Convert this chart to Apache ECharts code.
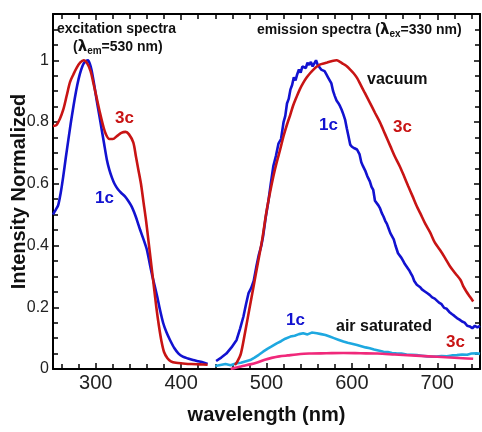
<!DOCTYPE html>
<html><head><meta charset="utf-8">
<script src="https://cdn.jsdelivr.net/npm/echarts@6/dist/echarts.min.js"></script>
<style>html,body{margin:0;padding:0;background:#fff}#c{width:482px;height:432px}</style>
</head><body><div id="c"></div>
<script>
// excitation 1c (wavelength nm, normalized intensity)
const exc1c = [[250,0.5],[253,0.515],[256,0.53],[259,0.57],[262,0.624],[265,0.685],[268,0.743],[271,0.8],[274,0.852],[277,0.9],[280,0.94],[283,0.97],[286,0.99],[289,0.998],[291,1.0],[293,0.99],[295,0.97],[298,0.925],[301,0.873],[304,0.825],[307,0.776],[310,0.727],[313,0.679],[316,0.645],[319,0.62],[322,0.6],[326,0.582],[330,0.57],[334,0.56],[338,0.545],[342,0.527],[345,0.508],[348,0.485],[352,0.451],[356,0.42],[360,0.386],[363,0.345],[366,0.305],[369,0.27],[372,0.235],[375,0.195],[379,0.149],[383,0.118],[387,0.094],[392,0.068],[397,0.05],[402,0.04],[408,0.034],[414,0.029],[420,0.025],[426,0.021],[431,0.016]];
// excitation 3c
const exc3c = [[250,0.787],[254,0.79],[258,0.81],[262,0.84],[266,0.885],[270,0.93],[274,0.955],[278,0.977],[282,0.993],[286,1.0],[290,0.99],[294,0.965],[297,0.93],[301,0.88],[305,0.83],[309,0.785],[312,0.76],[316,0.745],[320,0.745],[325,0.755],[330,0.765],[335,0.768],[339,0.76],[344,0.734],[347,0.69],[350,0.645],[353,0.6],[356,0.54],[359,0.48],[362,0.41],[365,0.34],[368,0.27],[371,0.2],[374,0.14],[377,0.09],[380,0.055],[384,0.035],[388,0.025],[394,0.02],[402,0.018],[412,0.016],[422,0.015],[431,0.014]];
// emission 1c, vacuum
const em1cVac = [[441,0.026],[447,0.037],[453,0.05],[459,0.07],[465,0.094],[469,0.13],[473,0.17],[476,0.21],[479,0.246],[482,0.262],[485,0.285],[488,0.33],[491,0.37],[494,0.4],[496,0.43],[499,0.49],[502,0.54],[505,0.6],[508,0.657],[511,0.69],[514,0.73],[517,0.745],[520,0.8],[522,0.82],[524,0.86],[526,0.875],[528,0.905],[530,0.92],[532,0.945],[534,0.935],[536,0.955],[538,0.97],[540,0.96],[542,0.98],[544,0.985],[546,0.975],[548,0.992],[550,0.985],[552,0.995],[554,0.98],[556,0.99],[558,1.0],[560,0.985],[562,0.98],[564,0.97],[566,0.975],[568,0.965],[570,0.955],[572,0.945],[574,0.935],[576,0.925],[578,0.9],[580,0.884],[582,0.87],[584,0.862],[586,0.852],[588,0.84],[590,0.825],[592,0.808],[594,0.78],[596,0.754],[598,0.727],[600,0.72],[603,0.715],[606,0.711],[609,0.695],[611,0.67],[613,0.657],[616,0.64],[618,0.625],[621,0.608],[623,0.59],[625,0.58],[627,0.545],[629,0.54],[631,0.53],[633,0.52],[635,0.505],[637,0.494],[639,0.48],[641,0.47],[643,0.455],[645,0.44],[647,0.445],[649,0.42],[651,0.4],[654,0.375],[656,0.37],[658,0.36],[660,0.35],[662,0.34],[664,0.332],[667,0.32],[669,0.31],[671,0.3],[673,0.285],[676,0.273],[678,0.275],[680,0.265],[682,0.258],[685,0.252],[688,0.246],[691,0.24],[694,0.232],[697,0.228],[699,0.224],[702,0.215],[705,0.21],[708,0.198],[711,0.195],[714,0.185],[717,0.178],[720,0.172],[723,0.165],[726,0.16],[729,0.154],[732,0.15],[735,0.14],[738,0.138],[741,0.132],[744,0.14],[747,0.135],[750,0.14]];
// emission 3c, vacuum
const em3cVac = [[463,0.013],[466,0.025],[470,0.05],[475,0.12],[480,0.195],[485,0.27],[490,0.345],[495,0.42],[500,0.51],[504,0.57],[508,0.624],[512,0.67],[516,0.711],[520,0.755],[524,0.792],[528,0.825],[531,0.852],[535,0.88],[539,0.906],[543,0.927],[547,0.944],[551,0.958],[555,0.97],[559,0.98],[563,0.987],[567,0.99],[571,0.993],[576,0.997],[582,1.0],[586,0.995],[590,0.988],[594,0.981],[598,0.97],[602,0.958],[606,0.943],[610,0.922],[615,0.895],[621,0.863],[627,0.83],[633,0.798],[639,0.76],[645,0.722],[650,0.69],[656,0.657],[661,0.625],[666,0.592],[671,0.56],[676,0.527],[680,0.505],[686,0.47],[692,0.44],[697,0.41],[703,0.386],[709,0.36],[715,0.332],[721,0.31],[727,0.289],[731,0.265],[734,0.251],[738,0.235],[742,0.219]];
// emission 1c, air saturated
const em1cAir = [[440,0.01],[446,0.013],[452,0.016],[458,0.012],[464,0.018],[470,0.02],[476,0.025],[481,0.029],[486,0.037],[491,0.046],[496,0.056],[501,0.065],[506,0.073],[512,0.083],[517,0.09],[522,0.098],[528,0.105],[533,0.108],[538,0.113],[543,0.116],[548,0.112],[553,0.118],[559,0.116],[564,0.113],[569,0.11],[574,0.105],[579,0.1],[584,0.095],[590,0.089],[595,0.085],[600,0.082],[606,0.078],[611,0.074],[616,0.07],[621,0.067],[626,0.063],[631,0.06],[637,0.056],[642,0.055],[647,0.052],[652,0.051],[658,0.05],[664,0.047],[670,0.046],[676,0.045],[682,0.043],[688,0.041],[694,0.04],[699,0.04],[705,0.042],[711,0.041],[717,0.044],[723,0.045],[729,0.047],[735,0.046],[740,0.05],[746,0.051],[750,0.049]];
// emission 3c, air saturated
const em3cAir = [[458,0.0],[465,0.005],[472,0.01],[481,0.015],[490,0.022],[498,0.03],[506,0.036],[515,0.041],[525,0.044],[535,0.047],[550,0.05],[570,0.051],[590,0.052],[610,0.051],[630,0.05],[650,0.047],[670,0.044],[690,0.041],[710,0.038],[730,0.035],[742,0.033]];

const xRange = [250, 750];
const yRange = [0, 1.15];

const BLUE = '#1212d0', RED = '#c81414', LBLUE = '#1ea8e0', PINK = '#f0287a';
const FONT = '"Liberation Sans", Arial, sans-serif';

const chart = echarts.init(document.getElementById('c'), null, {renderer: 'canvas'});
const axisLine = {show: true, onZero: false, lineStyle: {color: '#000', width: 2}};
const tick = {show: true, inside: true, length: 6, lineStyle: {color: '#000', width: 1.5}};
const minor = (n) => ({show: true, splitNumber: n, length: 5, lineStyle: {color: '#000', width: 1.5}});

const line = (data, color, smooth) => ({
  type: 'line', data, showSymbol: false, smooth, silent: true,
  lineStyle: {color, width: 2.6}, itemStyle: {color}, animation: false
});

function txt(x, y, text, size, color, align) {
  return {type: 'text', x, y, style: {text, fill: color, font: `bold ${size}px ${FONT}`, textAlign: align || 'left', textVerticalAlign: 'middle'}};
}
function rich(x, y, parts) {
  return {type: 'text', x, y, style: {
    text: parts, textAlign: 'left', textVerticalAlign: 'middle',
    rich: {
      b: {font: `bold 14px ${FONT}`, fill: '#111'},
      s: {font: `bold 10px ${FONT}`, fill: '#111', padding: [8, 0, 0, 0]},
      l: {font: `bold 15px "DejaVu Sans", sans-serif`, fill: '#111'}
    }
  }};
}

chart.setOption({
  animation: false,
  backgroundColor: '#fff',
  grid: {left: 53, right: 2, top: 14, bottom: 63, containLabel: false, outerBoundsMode: 'none'},
  xAxis: [{
    type: 'value', min: xRange[0], max: xRange[1], splitNumber: 5,
    axisLine, axisTick: tick, minorTick: minor(5), splitLine: {show: false},
    axisLabel: {fontSize: 20, color: '#222', fontFamily: FONT, margin: 4, showMinLabel: false, showMaxLabel: false},
    name: 'wavelength (nm)', nameLocation: 'middle', nameGap: 36, nameMoveOverlap: false,
    nameTextStyle: {fontSize: 20, fontWeight: 'bold', color: '#111', fontFamily: FONT}
  }, {
    type: 'value', position: 'top', min: xRange[0], max: xRange[1], splitNumber: 5,
    axisLine, axisTick: tick, minorTick: minor(5), splitLine: {show: false}, axisLabel: {show: false}
  }],
  yAxis: [{
    type: 'value', min: yRange[0], max: yRange[1], interval: 0.2,
    axisLine, axisTick: tick, minorTick: minor(4), splitLine: {show: false},
    axisLabel: {fontSize: 16, color: '#222', fontFamily: FONT, margin: 4, showMaxLabel: false,
      formatter: v => (Math.abs(v * 5 - Math.round(v * 5)) < 1e-6 ? String(+v.toFixed(1)) : '')},
    name: 'Intensity Normalized', nameLocation: 'middle', nameGap: 24, nameMoveOverlap: false,
    nameTextStyle: {fontSize: 20, fontWeight: 'bold', color: '#111', fontFamily: FONT}
  }, {
    type: 'value', position: 'right', min: yRange[0], max: yRange[1], interval: 0.2,
    axisLine, axisTick: tick, minorTick: minor(4), splitLine: {show: false}, axisLabel: {show: false}
  }],
  series: [
    line(exc1c, BLUE, 0.2),
    line(exc3c, RED, 0.3),
    line(em1cAir, LBLUE, false),
    line(em3cAir, PINK, 0.3),
    line(em1cVac, BLUE, false),
    line(em3cVac, RED, 0.3)
  ],
  graphic: [
    txt(57, 29, 'excitation spectra', 14, '#111'),
    rich(73, 47, '{b|(}{l|λ}{s|em}{b|=530 nm)}'),
    rich(257, 30, '{b|emission spectra (}{l|λ}{s|ex}{b|=330 nm)}'),
    txt(367, 80, 'vacuum', 16, '#111'),
    txt(393, 127, '3c', 17, RED),
    txt(319, 125, '1c', 17, BLUE),
    txt(115, 118, '3c', 17, RED),
    txt(95, 198, '1c', 17, BLUE),
    txt(286, 320, '1c', 17, BLUE),
    txt(336, 327, 'air saturated', 16, '#111'),
    txt(446, 342, '3c', 17, RED)
  ]
});
</script></body></html>
